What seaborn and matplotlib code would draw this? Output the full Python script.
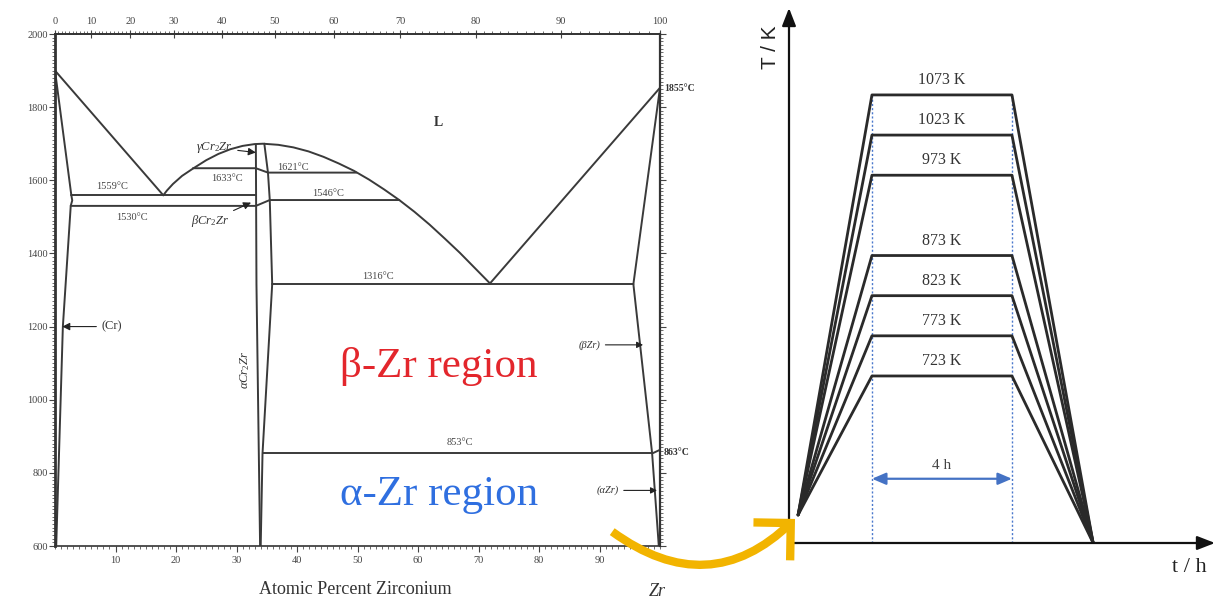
import numpy as np
import pandas as pd
import matplotlib
matplotlib.use("Agg")
import matplotlib.pyplot as plt
from matplotlib.patches import FancyArrowPatch
from matplotlib.ticker import MultipleLocator, FixedLocator
import seaborn as sns

# ---------------- data: Cr-Zr phase diagram (at.% Zr, deg C) ----------------
liq_left_x = [0.0, 17.9]
liq_left_T = [1900, 1559]
dome_x = [17.9, 18.5, 19.5, 21.0, 22.8, 25.0, 27.0, 29.0, 31.0, 33.0, 34.4,
          36.9, 39.4, 41.9, 44.4, 46.9, 49.4, 51.9, 54.4, 56.9, 59.4, 61.9, 64.4, 66.9, 69.4, 71.9]
dome_T = [1559, 1572, 1590, 1612, 1632, 1655, 1672, 1685, 1694, 1699, 1700,
          1697, 1690, 1679, 1664, 1646, 1626, 1602, 1575, 1546, 1514, 1479, 1441, 1402, 1360, 1318]
liq_right_x = [71.9, 100.0]
liq_right_T = [1318, 1853]
cr_solvus_x = [0.0, 2.7, 2.85, 2.6, 1.3, 0.2]
cr_solvus_T = [1900, 1559, 1545, 1530, 1200, 600]
cr2zr_left_x = [33.2, 33.3, 33.9]
cr2zr_left_T = [1697, 1316, 600]
cr2zr_right_x = [34.6, 35.2, 35.5, 35.9, 34.3, 34.0]
cr2zr_right_T = [1700, 1621, 1546, 1316, 853, 600]
bzr_solidus_x = [100.0, 95.6]
bzr_solidus_T = [1853, 1316]
bzr_solvus_x = [95.6, 98.7]
bzr_solvus_T = [1316, 853]
azr_x = [100.0, 98.7, 99.8]
azr_T = [863, 853, 600]
iso_1559_x = [2.7, 33.2]
iso_1559_T = [1559, 1559]
iso_1530_x = [2.6, 33.2, 35.5, 56.9]
iso_1530_T = [1530, 1530, 1546, 1546]
iso_1633_x = [22.8, 33.2, 35.2, 49.8]
iso_1633_T = [1633, 1633, 1621, 1621]
iso_1316_x = [35.9, 95.6]
iso_1316_T = [1316, 1316]
iso_853_x = [34.3, 98.7]
iso_853_T = [853, 853]

boundaries = {
    "liq_left": (liq_left_x, liq_left_T), "dome": (dome_x, dome_T),
    "liq_right": (liq_right_x, liq_right_T), "cr_solvus": (cr_solvus_x, cr_solvus_T),
    "cr2zr_left": (cr2zr_left_x, cr2zr_left_T), "cr2zr_right": (cr2zr_right_x, cr2zr_right_T),
    "bzr_solidus": (bzr_solidus_x, bzr_solidus_T), "bzr_solvus": (bzr_solvus_x, bzr_solvus_T),
    "azr": (azr_x, azr_T), "iso_1559": (iso_1559_x, iso_1559_T),
    "iso_1530": (iso_1530_x, iso_1530_T), "iso_1633": (iso_1633_x, iso_1633_T),
    "iso_1316": (iso_1316_x, iso_1316_T), "iso_853": (iso_853_x, iso_853_T),
}

iso_labels = ["1559°C", "1530°C", "1633°C", "1621°C", "1546°C", "1316°C", "853°C"]
iso_label_x = [9.4, 12.7, 28.4, 39.3, 45.1, 53.4, 66.9]
iso_label_T = [1584, 1497, 1606, 1636, 1565, 1336, 882]

# ---------------- data: heat-treatment schedule (h, K) ----------------
hold_temps = [723, 773, 823, 873, 973, 1023, 1073]
hold_labels = ["723 K", "773 K", "823 K", "873 K", "973 K", "1023 K", "1073 K"]
t_knots = [0.26, 2.37, 6.37, 8.69]
T_start = 550
T_end = 515
hold_hours = 4

# ---------------- style ----------------
sns.set_theme(style="white")
plt.rcParams["font.family"] = ["Liberation Serif", "DejaVu Serif"]
plt.rcParams["mathtext.fontset"] = "custom"
plt.rcParams["mathtext.rm"] = "Liberation Serif"
plt.rcParams["mathtext.it"] = "Liberation Serif:italic"

W, H = 1232, 601
fig = plt.figure(figsize=(W / 100, H / 100), dpi=100)
fig.patch.set_facecolor("white")

# ======================= left: phase diagram =======================
ax1 = fig.add_axes([55 / W, 1 - 546 / H, 605 / W, 512 / H])
rows = []
for name, (xs, Ts) in boundaries.items():
    for i, (x, T) in enumerate(zip(xs, Ts)):
        rows.append({"seg": name, "order": i, "x": x, "T": T})
pd_df = pd.DataFrame(rows)
sns.lineplot(data=pd_df, x="x", y="T", units="seg", estimator=None, sort=False,
             color="#3a3a3a", lw=1.4, ax=ax1, legend=False)
ax1.set_xlim(0, 100)
ax1.set_ylim(600, 2000)
ax1.set_xlabel("")
ax1.set_ylabel("")
for s in ax1.spines.values():
    s.set_color("#333333")
    s.set_linewidth(1.2)
ax1.spines["left"].set_linewidth(2.0)
ax1.spines["right"].set_linewidth(1.6)

ax1.xaxis.set_major_locator(FixedLocator([10, 20, 30, 40, 50, 60, 70, 80, 90]))
ax1.xaxis.set_minor_locator(MultipleLocator(1))
ax1.yaxis.set_major_locator(MultipleLocator(200))
ax1.yaxis.set_minor_locator(MultipleLocator(10))
ax1.tick_params(axis="x", which="major", direction="out", length=4, width=0.8, pad=3,
                labelsize=7.5, colors="#444444", bottom=True, top=False)
ax1.tick_params(axis="x", which="minor", direction="out", length=2, width=0.6, bottom=True, top=False,
                colors="#555555")
ax1.tick_params(axis="y", which="major", direction="out", length=4, width=0.8, pad=1,
                labelsize=7.5, colors="#444444", left=True, right=True)
ax1.tick_params(axis="y", which="minor", direction="out", length=2, width=0.6, left=True, right=True,
                colors="#555555")
ax1.set_facecolor("white")


def at2wt(a):
    a = np.asarray(a, dtype=float)
    return 100 * a * 91.224 / (a * 91.224 + (100 - a) * 51.996)


def wt2at(w):
    w = np.asarray(w, dtype=float)
    return 100 * (w / 91.224) / (w / 91.224 + (100 - w) / 51.996)


sec = ax1.secondary_xaxis("top", functions=(at2wt, wt2at))
sec.xaxis.set_major_locator(MultipleLocator(10))
sec.xaxis.set_minor_locator(MultipleLocator(1))
sec.tick_params(which="major", direction="inout", length=6, width=0.8, pad=3, labelsize=7.5,
                colors="#444444")
sec.tick_params(which="minor", direction="out", length=2, width=0.6, colors="#555555")
sec.spines["top"].set_color("#333333")

# isotherm labels
for lab, x, T in zip(iso_labels, iso_label_x, iso_label_T):
    ax1.text(x, T, lab, fontsize=7.5, ha="center", va="center", color="#444444")
ax1.text(63.3, 1759, "L", fontsize=10, fontweight="bold", ha="center", va="center", color="#333333")
ax1.text(31.4, 1081, r"αCr$_2$Zr", fontsize=9, rotation=90, ha="center", va="center",
         color="#333333", style="italic")
ax1.text(100.7, 1852, "1855°C", fontsize=7, fontweight="bold", ha="left", va="center",
         color="#333333", clip_on=False)
ax1.text(100.6, 857, "863°C", fontsize=7, fontweight="bold", ha="left", va="center",
         color="#333333", clip_on=False)

arrow_kw = dict(arrowstyle="-|>,head_length=0.5,head_width=0.25", color="#222222", lw=0.8,
                shrinkA=1, shrinkB=0)
ax1.annotate(r"γCr$_2$Zr", xy=(33.2, 1676), xytext=(26.4, 1689), fontsize=9, style="italic",
             ha="center", va="center", color="#333333", arrowprops=arrow_kw)
ax1.annotate(r"βCr$_2$Zr", xy=(32.4, 1539), xytext=(25.6, 1488), fontsize=9, style="italic",
             ha="center", va="center", color="#333333", arrowprops=arrow_kw)
ax1.annotate("(Cr)", xy=(1.2, 1200), xytext=(9.3, 1200), fontsize=9, ha="center", va="center",
             color="#333333", arrowprops=arrow_kw)
ax1.annotate("(βZr)", xy=(97.2, 1150), xytext=(88.4, 1150), fontsize=7.5, ha="center", va="center",
             color="#333333", style="italic", arrowprops=arrow_kw)
ax1.annotate("(αZr)", xy=(99.5, 752), xytext=(91.4, 752), fontsize=7.5, ha="center", va="center",
             color="#333333", style="italic", arrowprops=arrow_kw)

ax1.text(63.5, 1090, "β-Zr region", fontsize=31, color="#e3262c", ha="center", va="center")
ax1.text(63.5, 740, "α-Zr region", fontsize=31, color="#2f6fe0", ha="center", va="center")

fig.text(355 / W, 1 - 590 / H, "Atomic Percent Zirconium", fontsize=13, ha="center", va="center",
         color="#333333")
fig.text(657 / W, 1 - 591 / H, "Zr", fontsize=13, ha="center", va="center", color="#333333",
         style="italic")

# ======================= right: heat-treatment schematic =======================
ax2 = fig.add_axes([789 / W, 1 - 543 / H, 426 / W, 535 / H])
ax2.set_xlim(0, 426 / 35)
ax2.set_ylim(515, 515 + 535 / 0.803)
ax2.axis("off")

prof = []
for T in hold_temps:
    for t, TT in zip(t_knots, [T_start, T, T, T_end]):
        prof.append({"temp": T, "t": t, "T": TT})
prof_df = pd.DataFrame(prof)
sns.lineplot(data=prof_df, x="t", y="T", units="temp", estimator=None, sort=False,
             color="#2a2a2a", lw=2.0, ax=ax2, legend=False)
ax2.set_xlabel("")
ax2.set_ylabel("")

# hold window markers
for tx in (t_knots[1], t_knots[2]):
    ax2.plot([tx, tx], [515, max(hold_temps)], ls=(0, (1.5, 1.5)), color="#4a78cc", lw=1.0, zorder=1)
ax2.annotate("", xy=(t_knots[2], 595), xytext=(t_knots[1], 595),
             arrowprops=dict(arrowstyle="<|-|>,head_length=0.7,head_width=0.3", color="#4472c4",
                             lw=1.6, shrinkA=0, shrinkB=0))
ax2.text((t_knots[1] + t_knots[2]) / 2, 612, f"{hold_hours} h", fontsize=11, ha="center", va="center",
         color="#444444")
for T, lab in zip(hold_temps, hold_labels):
    ax2.text((t_knots[1] + t_knots[2]) / 2, T + 18.5, lab, fontsize=11.5, ha="center", va="center",
             color="#333333")

# axes arrows
ax_arrow = dict(arrowstyle="-|>,head_length=0.9,head_width=0.35", color="#111111", lw=1.6,
                shrinkA=0, shrinkB=0)
ax2.annotate("", xy=(1.0, 0.0), xytext=(0.0, 0.0), xycoords="axes fraction",
             textcoords="axes fraction", arrowprops=ax_arrow)
ax2.annotate("", xy=(0.0, 1.0), xytext=(0.0, 0.0), xycoords="axes fraction",
             textcoords="axes fraction", arrowprops=ax_arrow)
fig.text(770 / W, 1 - 47 / H, "T / K", fontsize=15, rotation=90, ha="center", va="center",
         family=["Liberation Sans", "DejaVu Sans"], color="#222222")
fig.text(1189 / W, 1 - 567 / H, "t / h", fontsize=16, ha="center", va="center", color="#222222")

# connecting golden arrow
gold = FancyArrowPatch(posA=(610, H - 530), posB=(797, H - 517), transform=None,
                       connectionstyle="arc3,rad=0.43",
                       arrowstyle="->,head_length=1.0,head_width=1.0", mutation_scale=19,
                       color="#f2b400", lw=6, capstyle="butt", joinstyle="miter", zorder=10)
fig.patches.append(gold)

fig.savefig("out.png", dpi=100, facecolor="white")
